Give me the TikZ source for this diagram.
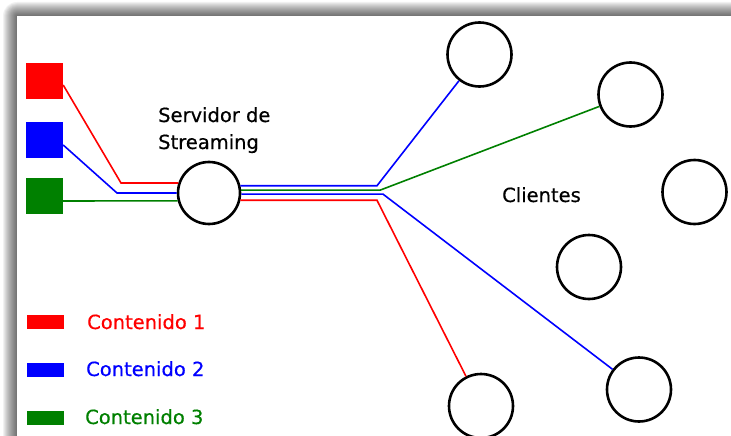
\documentclass[tikz,border=0pt]{standalone}
\usepackage{fontspec}
\setmainfont{DejaVu Sans}
\newfontfamily\lblfont[FakeBold=0.5]{DejaVu Sans}
\definecolor{dgreen}{RGB}{0,128,0}
\definecolor{pred}{RGB}{255,0,0}
\definecolor{pblue}{RGB}{0,0,255}
\begin{document}
\begin{tikzpicture}[x=1pt,y=-1pt,
  client/.style={circle,draw=black,line width=2.6pt,minimum size=64pt,inner sep=0pt},
  server/.style={circle,draw=black,line width=2.6pt,minimum size=62pt,inner sep=0pt},
  srcbox/.style={rectangle,minimum width=37pt,minimum height=36pt,inner sep=0pt},
  legbox/.style={rectangle,minimum width=37pt,minimum height=14pt,inner sep=0pt},
  lbl/.style={font=\lblfont\fontsize{19.5}{27}\selectfont\addfontfeature{FakeBold=0.5},inner sep=0pt},
  feed/.style={line width=1.6pt}]
% background and frame shadow
\useasboundingbox (0,0) rectangle (731,436);
\fill[white] (0,0) rectangle (731,436);
\foreach \i in {1,...,14}{
  \fill[black,opacity=0.05,rounded corners=\i pt] (17-\i,16-\i) rectangle (760,460);
}
\fill[white] (17,16) rectangle (760,460);

% sources
\node[srcbox,fill=pred] (srcR) at (44.5,81) {};
\node[srcbox,fill=pblue] (srcB) at (44.5,140) {};
\node[srcbox,fill=dgreen] (srcG) at (44.5,196) {};

% server
\node[server] (srv) at (209,193) {};
\node[lbl,anchor=base west,align=left] (srvlbl) at (158,149) {Servidor de\\Streaming};

% clients
\node[client] (cTop) at (479.5,54.5) {};
\node[client] (cUR) at (630.5,94.5) {};
\node[client] (cR) at (694.5,192) {};
\node[client] (cMid) at (589,267) {};
\node[client] (cLR) at (639,389.5) {};
\node[client] (cBot) at (481,406) {};
\node[lbl,anchor=base west] (clbl) at (502,202) {Clientes};

% bend coordinates
\coordinate (bR) at (121,183);
\coordinate (bB) at (117,193);
\coordinate (kB1) at (377,0);
\coordinate (kG) at (380,0);
\coordinate (kB2) at (383,0);
\coordinate (kR) at (377,0);

% incoming feeds
\draw[feed,pred] ([yshift=-4pt]srcR.east) -- (bR) -- (srv.162);
\draw[feed,pblue] ([yshift=-5pt]srcB.east) -- (bB) -- (srv.180);
\draw[feed,dgreen] ([yshift=-5pt]srcG.east) -- (srv.194.5);

% outgoing feeds
\draw[feed,pblue] (srv.13) -- (srv.13 -| kB1) -- (cTop);
\draw[feed,dgreen] (srv.5) -- (srv.5 -| kG) -- (cUR);
\draw[feed,pblue] (srv.-2) -- (srv.-2 -| kB2) -- (cLR);
\draw[feed,pred] (srv.-13) -- (srv.-13 -| kR) -- (cBot);

% legend
\node[legbox,fill=pred] (lgR) at (45.5,322) {};
\node[legbox,fill=pblue] (lgB) at (45.5,369.5) {};
\node[legbox,fill=dgreen] (lgG) at (45.5,417.5) {};
\node[lbl,anchor=base west,text=pred] (lgRt) at (87,329) {Contenido 1};
\node[lbl,anchor=base west,text=pblue] (lgBt) at (86,376) {Contenido 2};
\node[lbl,anchor=base west,text=dgreen] (lgGt) at (85,424) {Contenido 3};
\end{tikzpicture}
\end{document}
